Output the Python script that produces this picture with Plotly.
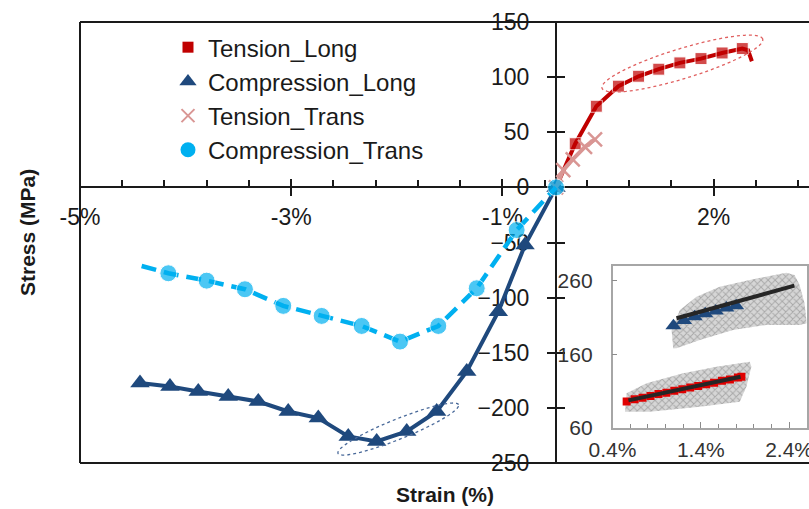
import numpy as np
import plotly.graph_objects as go

# ---------------- main chart data (strain in %, stress in MPa) ----------------
tension_long_strain = [0, 0.20, 0.42, 0.65, 0.86, 1.07, 1.29, 1.51, 1.73, 1.94, 2.00, 2.04]
tension_long_stress = [0, 39.6, 73.6, 91.8, 100.8, 107.2, 112.9, 116.8, 121.9, 125.9, 124.4, 114.4]

compression_long_strain = [-4.333, -4.021, -3.726, -3.414, -3.101, -2.789, -2.476, -2.164,
                           -1.868, -1.555, -1.243, -0.930, -0.601, -0.323, 0]
compression_long_stress = [-177.5, -180.6, -185.1, -189.7, -194.2, -203.3, -209.2, -225.9,
                           -230.4, -221.4, -203.3, -167.0, -112.7, -52.3, 0]

tension_trans_strain = [0, 0.076, 0.174, 0.302, 0.406]
tension_trans_stress = [0, 15.7, 25.4, 36.8, 43.5]

compression_trans_strain = [-4.316, -4.038, -3.639, -3.240, -2.841, -2.441, -2.024, -1.625,
                            -1.226, -0.826, -0.410, 0]
compression_trans_stress = [-71.3, -77.9, -84.6, -92.4, -107.5, -116.6, -125.7, -139.9,
                            -125.7, -91.5, -38.7, 0]

x_tick_vals = [-4.958, -2.758, -0.558, 1.642]
x_tick_text = ["-5%", "-3%", "-1%", "2%"]
y_tick_vals = [-250, -200, -150, -100, -50, 0, 50, 100, 150]

# ---------------- inset data ----------------
inset_comp_env_x = [1.087, 1.069, 1.163, 1.351, 1.615, 1.954, 2.368, 2.462, 2.519, 2.575, 2.6,
                    2.519, 2.142, 1.765, 1.389, 1.125]
inset_comp_env_y = [168.3, 193.2, 220.3, 238.4, 252.0, 261.1, 271.0, 267.9, 254.3, 229.4, 202.3,
                    200.0, 200.0, 193.2, 179.6, 168.3]
inset_ten_env_x = [0.541, 0.560, 0.786, 1.200, 1.577, 1.954, 1.973, 1.916, 1.841, 1.389, 0.824, 0.560]
inset_ten_env_y = [82.1, 107.1, 120.7, 134.3, 143.3, 150.1, 143.3, 116.1, 95.7, 88.9, 82.1, 82.1]

inset_comp_x = [1.09, 1.21, 1.33, 1.45, 1.57, 1.69, 1.80]
inset_comp_y = [199, 206, 211, 215, 219, 223, 226]
inset_ten_x = [0.56, 0.65, 0.74, 0.83, 0.92, 1.01, 1.10, 1.19, 1.28, 1.37, 1.46, 1.55, 1.64,
               1.73, 1.82, 1.86]
inset_ten_y = [96, 99, 101, 103.5, 106, 108, 110.5, 112.5, 115, 117, 119.5, 121.5, 124, 126,
               128.5, 129.5]
inset_comp_fit_x = [1.125, 2.46]
inset_comp_fit_y = [209, 253.3]
inset_ten_fit_x = [0.58, 1.85]
inset_ten_fit_y = [97.5, 129.5]

inset_x_tick_vals = [0.4, 1.4, 2.4]
inset_x_tick_text = ["0.4%", "1.4%", "2.4%"]
inset_y_tick_vals = [60, 160, 260]

# ---------------- styling ----------------
RED = "#C00000"
NAVY = "#1F497D"
PINK = "#D99694"
CYAN = "#00B0F0"
FONT = "Arial"
TXT = "#1a1a1a"

X_RANGE = [-4.958, 2.635]
Y_RANGE = [-250, 150]
x_zero_pos = (0 - X_RANGE[0]) / (X_RANGE[1] - X_RANGE[0])
y_zero_pos = (0 - Y_RANGE[0]) / (Y_RANGE[1] - Y_RANGE[0])

fig = go.Figure()

fig.add_trace(go.Scatter(x=tension_long_strain, y=tension_long_stress, mode="lines+markers",
                         line=dict(color=RED, width=4),
                         marker=dict(symbol="square", size=[0] + [12] * 9 + [0, 0], color=RED),
                         showlegend=False, hoverinfo="skip"))
fig.add_trace(go.Scatter(x=compression_long_strain, y=compression_long_stress, mode="lines+markers",
                         line=dict(color=NAVY, width=4),
                         marker=dict(symbol="triangle-up", size=17, color=NAVY),
                         showlegend=False, hoverinfo="skip"))
fig.add_trace(go.Scatter(x=tension_trans_strain, y=tension_trans_stress, mode="lines+markers",
                         line=dict(color=PINK, width=4),
                         marker=dict(symbol="x-thin", size=14, color=PINK,
                                     line=dict(color=PINK, width=2.5)),
                         showlegend=False, hoverinfo="skip"))
fig.add_trace(go.Scatter(x=compression_trans_strain, y=compression_trans_stress, mode="lines+markers",
                         line=dict(color=CYAN, width=4.5, dash="15px,8px"),
                         marker=dict(symbol="circle", size=[0] + [17] * 11, color=CYAN),
                         showlegend=False, hoverinfo="skip"))

# legend-only entries (markers only, as in the reference legend)
for name, sym, col, sz in [("Tension_Long", "square", RED, 11),
                           ("Compression_Long", "triangle-up", NAVY, 15),
                           ("Tension_Trans", "x-thin", PINK, 13),
                           ("Compression_Trans", "circle", CYAN, 15)]:
    fig.add_trace(go.Scatter(x=[None], y=[None], mode="markers", name=name,
                             marker=dict(symbol=sym, size=sz, color=col,
                                         line=dict(color=col, width=2 if sym == "x-thin" else 0))))

# crossing-tick helper axes
fig.add_trace(go.Scatter(x=[None], y=[None], xaxis="x3", yaxis="y3", showlegend=False,
                         hoverinfo="skip"))

# inset traces
PATTERN = dict(shape="x", fgcolor="#7a7a7a", bgcolor="#d6d6d6", size=5, solidity=0.35)
fig.add_trace(go.Scatter(x=inset_comp_env_x, y=inset_comp_env_y, xaxis="x2", yaxis="y2",
                         mode="lines", fill="toself", line=dict(width=0, color="#c8c8c8"),
                         fillpattern=PATTERN, fillcolor="#d6d6d6",
                         showlegend=False, hoverinfo="skip"))
fig.add_trace(go.Scatter(x=inset_ten_env_x, y=inset_ten_env_y, xaxis="x2", yaxis="y2",
                         mode="lines", fill="toself", line=dict(width=0, color="#c8c8c8"),
                         fillpattern=PATTERN, fillcolor="#d6d6d6",
                         showlegend=False, hoverinfo="skip"))
fig.add_trace(go.Scatter(x=inset_comp_x, y=inset_comp_y, xaxis="x2", yaxis="y2", mode="markers",
                         marker=dict(symbol="triangle-up", size=14, color=NAVY),
                         showlegend=False, hoverinfo="skip"))
fig.add_trace(go.Scatter(x=inset_comp_fit_x, y=inset_comp_fit_y, xaxis="x2", yaxis="y2",
                         mode="lines", line=dict(color="#262626", width=4),
                         showlegend=False, hoverinfo="skip"))
fig.add_trace(go.Scatter(x=inset_ten_x, y=inset_ten_y, xaxis="x2", yaxis="y2", mode="markers",
                         marker=dict(symbol="square", size=8, color="#E00000"),
                         showlegend=False, hoverinfo="skip"))
fig.add_trace(go.Scatter(x=inset_ten_fit_x, y=inset_ten_fit_y, xaxis="x2", yaxis="y2",
                         mode="lines", line=dict(color="#262626", width=4),
                         showlegend=False, hoverinfo="skip"))


def ellipse_path(a, b, deg, n=90):
    t = np.linspace(0, 2 * np.pi, n)
    th = np.radians(deg)
    xs = a * np.cos(t) * np.cos(th) - b * np.sin(t) * np.sin(th)
    ys = a * np.cos(t) * np.sin(th) + b * np.sin(t) * np.cos(th)
    return "M " + " L ".join(f"{x:.2f},{y:.2f}" for x, y in zip(xs, ys)) + " Z"


shapes = [
    # frame (left, top, bottom)
    dict(type="line", xref="paper", yref="paper", x0=0, x1=0, y0=0, y1=1,
         line=dict(color="#1a1a1a", width=2)),
    dict(type="line", xref="paper", yref="paper", x0=0, x1=1, y0=1, y1=1,
         line=dict(color="#1a1a1a", width=2)),
    dict(type="line", xref="paper", yref="paper", x0=0, x1=1, y0=0, y1=0,
         line=dict(color="#1a1a1a", width=2)),
    # dashed highlight ellipses
    dict(type="path", xref="x", yref="y", xsizemode="pixel", ysizemode="pixel",
         xanchor=1.316, yanchor=112.3, path=ellipse_path(84, 15, 17),
         line=dict(color="#E06060", width=1.3, dash="3px,3px")),
    dict(type="path", xref="x", yref="y", xsizemode="pixel", ysizemode="pixel",
         xanchor=-1.643, yanchor=-219.2, path=ellipse_path(65, 10, 22),
         line=dict(color="#4A6A9A", width=1.3, dash="3px,3px")),
]

fig.update_layout(
    width=809, height=509,
    margin=dict(l=80, r=0, t=22, b=46, autoexpand=False),
    paper_bgcolor="white", plot_bgcolor="white",
    font=dict(family=FONT, color=TXT),
    showlegend=True,
    legend=dict(x=0.1207, y=0.993, xanchor="left", yanchor="top",
                font=dict(family=FONT, size=24, color=TXT),
                bgcolor="rgba(0,0,0,0)", borderwidth=0, itemwidth=30, tracegroupgap=0),
    xaxis=dict(range=X_RANGE, anchor="free", position=y_zero_pos, showgrid=False, zeroline=False,
               automargin=False,
               showline=True, linecolor="#1a1a1a", linewidth=2, layer="below traces",
               tickmode="array", tickvals=x_tick_vals, ticktext=x_tick_text,
               ticks="outside", ticklen=8, tickwidth=2, tickcolor="#1a1a1a",
               ticklabelstandoff=1,
               tickfont=dict(family=FONT, size=23, color=TXT),
               minor=dict(tick0=-4.958, dtick=0.44, ticks="inside", ticklen=6, tickwidth=1.5,
                          tickcolor="#1a1a1a", showgrid=False)),
    yaxis=dict(range=Y_RANGE, anchor="free", position=x_zero_pos, showgrid=False, zeroline=False,
               automargin=False,
               showline=True, linecolor="#1a1a1a", linewidth=2, layer="below traces",
               tickmode="array", tickvals=y_tick_vals,
               ticks="outside", ticklen=8, tickwidth=2, tickcolor="#1a1a1a",
               ticklabelstandoff=13,
               tickfont=dict(family=FONT, size=23, color=TXT)),
    xaxis3=dict(range=X_RANGE, overlaying="x", anchor="free", position=y_zero_pos,
                automargin=False,
                showgrid=False, zeroline=False, showline=False, layer="below traces",
                tickmode="array", tickvals=x_tick_vals, showticklabels=False,
                ticks="inside", ticklen=8, tickwidth=2, tickcolor="#1a1a1a"),
    yaxis3=dict(range=Y_RANGE, overlaying="y", anchor="free", position=x_zero_pos,
                automargin=False,
                showgrid=False, zeroline=False, showline=False, layer="below traces",
                tickmode="array", tickvals=y_tick_vals, showticklabels=False,
                ticks="inside", ticklen=8, tickwidth=2, tickcolor="#1a1a1a"),
    xaxis2=dict(domain=[0.7305, 0.9969], anchor="y2", range=[0.4, 2.6], showgrid=False,
                automargin=False, ticklabeloverflow="allow",
                zeroline=False, showline=True, linecolor="#A6A6A6", linewidth=1.5, mirror=True,
                tickmode="array", tickvals=inset_x_tick_vals, ticktext=inset_x_tick_text,
                ticks="inside", ticklen=6, tickwidth=1, tickcolor="#8c8c8c",
                ticklabelstandoff=2,
                minor=dict(tick0=0.4, dtick=0.2, ticks="inside", ticklen=4, tickwidth=1,
                           tickcolor="#8c8c8c", showgrid=False),
                tickfont=dict(family=FONT, size=21, color="#333333")),
    yaxis2=dict(domain=[0.0794, 0.4467], anchor="x2", range=[60, 280], showgrid=False,
                automargin=False,
                zeroline=False, showline=True, linecolor="#A6A6A6", linewidth=1.5, mirror=True,
                tickmode="array", tickvals=inset_y_tick_vals,
                ticks="inside", ticklen=5, tickwidth=1, tickcolor="#8c8c8c",
                ticklabelstandoff=14,
                tickfont=dict(family=FONT, size=21, color="#333333")),
    shapes=shapes,
    annotations=[
        dict(text="<b>Stress (MPa)</b>", xref="paper", yref="paper", x=-0.0727, y=0.5215,
             textangle=-90, showarrow=False, xanchor="center", yanchor="middle",
             font=dict(family=FONT, size=21, color=TXT)),
        dict(text="<b>Strain (%)</b>", xref="paper", yref="paper", x=0.5007, y=-0.0703,
             showarrow=False, xanchor="center", yanchor="middle",
             font=dict(family=FONT, size=21, color=TXT)),
    ],
)

fig.write_html("out.html", config={"displayModeBar": False},
               post_script="document.body.style.margin='0';document.body.style.overflow='hidden';")
